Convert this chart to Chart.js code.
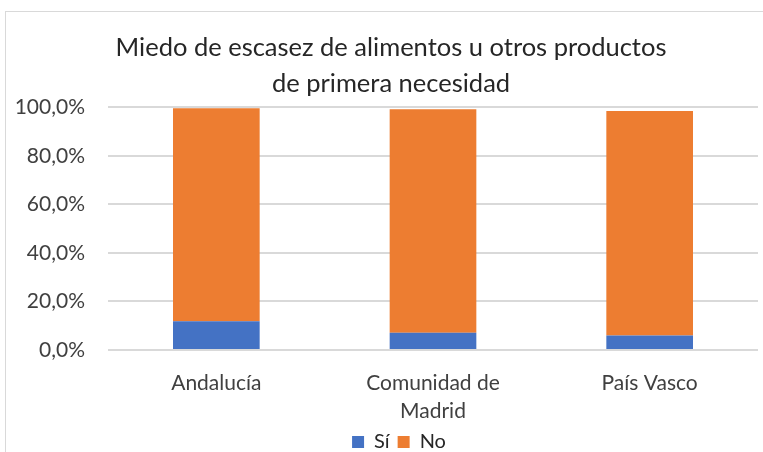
<!DOCTYPE html>
<html>
<head>
<meta charset="utf-8">
<script src="https://cdn.jsdelivr.net/npm/chart.js@4"></script>
<style>
body{margin:0;background:#fff;}
#wrap{position:relative;width:763px;height:452px;overflow:hidden;}
#frame{position:absolute;left:5px;top:11px;width:800px;height:500px;border:1.5px solid #d9d9d9;}
canvas{position:absolute;left:0;top:0;}
</style>
</head>
<body>
<div id="wrap">
<div id="frame"></div>
<canvas id="c" width="763" height="452"></canvas>
</div>
<script>
// Datos
const categorias=["Andalucía",["Comunidad de","Madrid"],"País Vasco"];
const si=[11.9,7.1,6.0];
const no=[87.8,92.1,92.5];
const tituloLineas=["Miedo de escasez de alimentos u otros productos","de primera necesidad"];

const fuente="Lato, 'Open Sans', sans-serif";

// desplaza leyenda y título hacia la derecha
const desplazar={
id:"desplazar",
afterLayout(chart){
chart.legend.left+=13;chart.legend.right+=13;
chart.titleBlock.left+=5;chart.titleBlock.right+=5;
}
};

new Chart(document.getElementById("c"),{
type:"bar",
data:{
labels:categorias,
datasets:[
{label:"Sí",data:si,backgroundColor:"#4472c4",barPercentage:0.4,categoryPercentage:1},
{label:"No",data:no,backgroundColor:"#ed7d31",barPercentage:0.4,categoryPercentage:1}
]
},
options:{
responsive:false,
animation:false,
layout:{padding:{left:14,right:5,top:30,bottom:-10}},
plugins:{
title:{display:true,text:tituloLineas,color:"#262626",font:{family:fuente,size:25.5,weight:"normal",lineHeight:1.4},padding:{top:0,bottom:6}},
legend:{position:"bottom",labels:{boxWidth:12,boxHeight:12,color:"#262626",font:{family:fuente,size:20},padding:8}},
tooltip:{enabled:false}
},
scales:{
x:{stacked:true,grid:{display:false},border:{display:false},
afterFit:s=>{s.height=74;},
ticks:{color:"#404040",font:{family:fuente,size:21,lineHeight:1.3},maxRotation:0,padding:12}},
y:{stacked:true,min:0,max:100,
afterFit:s=>{s.width=94;},
ticks:{stepSize:20,color:"#404040",font:{family:fuente,size:21},padding:23,
callback:v=>v.toFixed(1).replace(".",",")+"%"},
grid:{color:"#d9d9d9",lineWidth:2,drawTicks:false},border:{display:false}}
}
},
plugins:[desplazar]
});
</script>
</body>
</html>
